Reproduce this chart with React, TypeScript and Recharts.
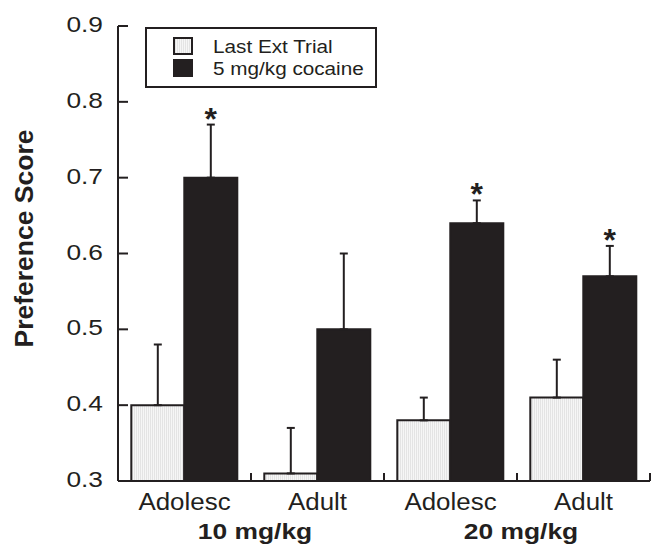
import React from 'react';
import { ComposedChart, Bar, XAxis, YAxis, ErrorBar, LabelList, Legend } from 'recharts';

const categories = ['Adolesc', 'Adult', 'Adolesc', 'Adult'];
const doseGroups = ['10 mg/kg', '10 mg/kg', '20 mg/kg', '20 mg/kg'];
const lastExtTrial = [0.4, 0.31, 0.38, 0.41];
const lastExtTrialErr = [0.08, 0.06, 0.03, 0.05];
const cocaine5 = [0.7, 0.5, 0.64, 0.57];
const cocaine5Err = [0.07, 0.1, 0.03, 0.04];
const significant = [true, false, true, true];
const yTicks = [0.3, 0.4, 0.5, 0.6, 0.7, 0.8, 0.9];
const seriesOrder = ['ext', 'coc'];
const Y_MIN = 0.3;
const Y_MAX = 0.9;

const INK = '#231f20';
const FONT = '"Liberation Sans", Arial, Helvetica, sans-serif';
const CHART_W = 657;
const CHART_H = 544;
const MARGIN = { top: 26, right: 7, bottom: 62, left: 0 };
const Y_AXIS_W = 118;

const data = categories.map((c, i) => ({
  idx: i,
  name: c,
  ext: lastExtTrial[i],
  extErr: [0, lastExtTrialErr[i]],
  coc: cocaine5[i],
  cocErr: [0, cocaine5Err[i]],
}));

const YTick = (props: any) => {
  const { x, y, payload } = props;
  return (
    <g>
      <line x1={x} x2={x + 10} y1={y} y2={y} stroke={INK} strokeWidth={2} />
      <text
        transform={`translate(${x - 15},${y + 6}) scale(1.17,1)`}
        textAnchor="end"
        fontSize={22.5}
        fontFamily={FONT}
        fill={INK}
      >
        {Number(payload.value).toFixed(1)}
      </text>
    </g>
  );
};

const CatTick = (props: any) => {
  const { x, y, payload } = props;
  const i = Number(payload.value);
  const plotW = CHART_W - MARGIN.left - MARGIN.right - Y_AXIS_W;
  const half =
    payload && typeof payload.offset === 'number' && payload.offset > 0
      ? payload.offset
      : plotW / categories.length / 2;
  const boundaryX = x + half;
  const showDose = i + 1 < doseGroups.length && doseGroups[i] === doseGroups[i + 1];
  return (
    <g>
      <line x1={boundaryX} x2={boundaryX} y1={y} y2={y - 8} stroke={INK} strokeWidth={2} />
      <text
        transform={`translate(${x},${y + 29}) scale(1.08,1)`}
        textAnchor="middle"
        fontSize={24}
        fontFamily={FONT}
        fill={INK}
      >
        {categories[i]}
      </text>
      {showDose ? (
        <text
          transform={`translate(${boundaryX + 4},${y + 58}) scale(1.2,1)`}
          textAnchor="middle"
          fontSize={22}
          fontWeight="bold"
          fontFamily={FONT}
          fill={INK}
        >
          {doseGroups[i]}
        </text>
      ) : null}
    </g>
  );
};

const Star = (props: any) => {
  const vb = props.viewBox && props.viewBox.width != null ? props.viewBox : props;
  const { x, y, width, height } = vb;
  const i = Number(props.value);
  if (!significant[i]) return null;
  const ppu = height / (cocaine5[i] - Y_MIN);
  const errTop = y - cocaine5Err[i] * ppu;
  return (
    <text
      x={x + width / 2}
      y={errTop + 5}
      textAnchor="middle"
      fontSize={32}
      fontWeight="bold"
      fontFamily={FONT}
      fill={INK}
    >
      *
    </text>
  );
};

const YLabel = (props: any) => {
  const vb = props.viewBox || { y: 26, height: 455 };
  const cy = vb.y + vb.height / 2 - 15;
  return (
    <text
      transform={`translate(33,${cy}) rotate(-90)`}
      textAnchor="middle"
      fontSize={26.5}
      fontWeight="bold"
      fontFamily={FONT}
      fill={INK}
    >
      Preference Score
    </text>
  );
};

const LegendBox = (props: any) => {
  const payload = [...(props.payload || [])].sort(
    (a: any, b: any) => seriesOrder.indexOf(String(a.dataKey)) - seriesOrder.indexOf(String(b.dataKey))
  );
  return (
    <svg width={232} height={61} style={{ display: 'block' }}>
      <rect x={1} y={1} width={230} height={59} fill="#fff" stroke={INK} strokeWidth={2} />
      {payload.map((p: any, i: number) => (
        <g key={i}>
          <rect x={29} y={11 + i * 22} width={18} height={16} fill={p.color} stroke={INK} strokeWidth={2} />
          <text
            transform={`translate(68,${26 + i * 22}) scale(1.12,1)`}
            fontSize={18.5}
            fontFamily={FONT}
            fill={INK}
          >
            {p.value}
          </text>
        </g>
      ))}
    </svg>
  );
};

export default function App() {
  return (
    <div style={{ position: 'absolute', left: 0, top: 0, width: CHART_W, height: CHART_H, background: '#fff' }}>
      <ComposedChart
        width={CHART_W}
        height={CHART_H}
        data={data}
        margin={MARGIN}
        barCategoryGap="10%"
        barGap={0}
      >
        <defs>
          <pattern id="lightPat" patternUnits="userSpaceOnUse" width={2} height={4}>
            <rect x={0} y={0} width={2} height={4} fill="#f6f6f6" />
            <rect x={0} y={0} width={1} height={4} fill="#e4e4e4" />
          </pattern>
        </defs>
        <XAxis
          xAxisId="cat"
          dataKey="idx"
          type="category"
          height={1}
          tickSize={0}
          tickMargin={0}
          tickLine={false}
          axisLine={{ stroke: INK, strokeWidth: 2 }}
          tick={<CatTick />}
          interval={0}
        />
        <YAxis
          domain={[Y_MIN, Y_MAX]}
          ticks={yTicks}
          width={Y_AXIS_W}
          tickSize={0}
          tickMargin={0}
          tickLine={false}
          axisLine={{ stroke: INK, strokeWidth: 2 }}
          tick={<YTick />}
          interval={0}
          label={{ value: 'Preference Score', content: <YLabel /> }}
        />
        <Legend
          layout="vertical"
          align="center"
          verticalAlign="middle"
          content={<LegendBox />}
          wrapperStyle={{ position: 'absolute', left: 145, top: 27, width: 232, height: 61 }}
        />
        <Bar
          xAxisId="cat"
          dataKey="ext"
          name="Last Ext Trial"
          fill="url(#lightPat)"
          stroke={INK}
          strokeWidth={2}
          isAnimationActive={false}
        >
          <ErrorBar dataKey="extErr" direction="y" width={4} stroke={INK} strokeWidth={2} />
        </Bar>
        <Bar
          xAxisId="cat"
          dataKey="coc"
          name="5 mg/kg cocaine"
          fill={INK}
          stroke={INK}
          strokeWidth={2}
          isAnimationActive={false}
        >
          <ErrorBar dataKey="cocErr" direction="y" width={4} stroke={INK} strokeWidth={2} />
          <LabelList dataKey="idx" content={<Star />} />
        </Bar>
      </ComposedChart>
    </div>
  );
}
